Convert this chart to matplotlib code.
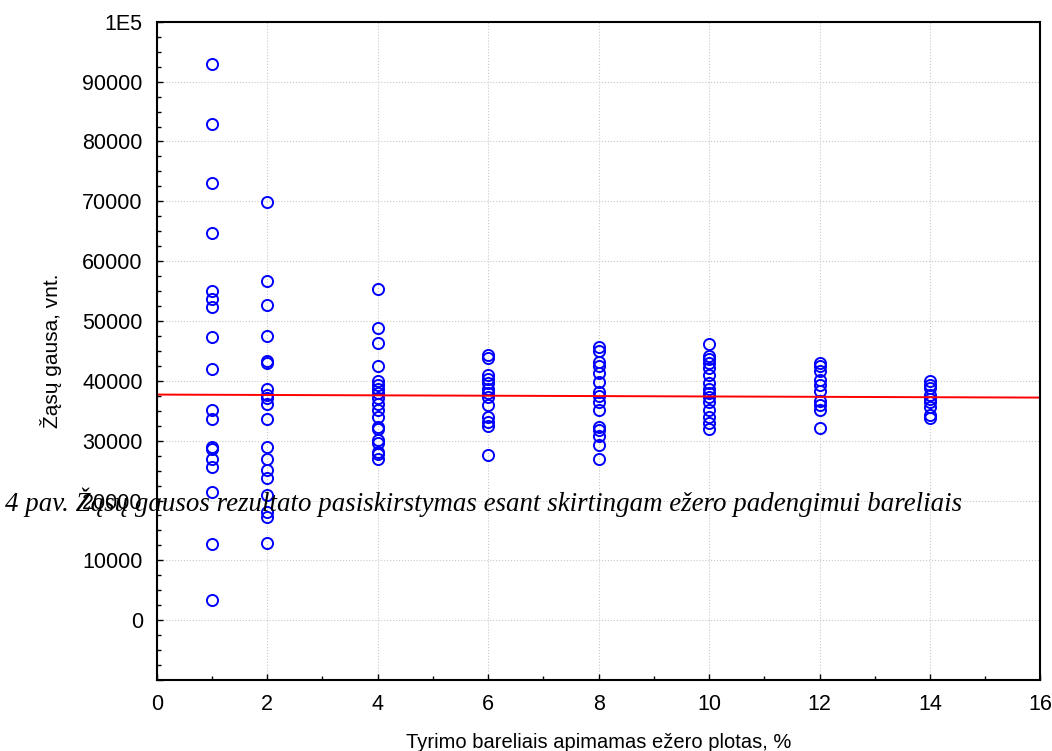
import matplotlib
matplotlib.use("Agg")
import matplotlib.pyplot as plt
from matplotlib.ticker import MultipleLocator, FuncFormatter

plt.rcParams['font.family'] = ['Liberation Sans', 'DejaVu Sans']

# Survey coverage of the lake (%) and goose counts per simulation
x_1 = [93000, 82900, 73100, 64700, 55000, 53600, 52400, 47300, 41900, 35100,
       33600, 29000, 28600, 27000, 25600, 21400, 12800, 3300]
x_2 = [69800, 56700, 52600, 47500, 43300, 43000, 38600, 37600, 37100, 36100,
       33600, 29000, 26900, 25100, 23700, 20900, 18100, 17200, 12900]
x_4 = [55300, 48800, 46400, 42400, 40000, 39300, 38600, 37900, 37100, 36200,
       35200, 34000, 32300, 31900, 30100, 29600, 28100, 27800, 26900]
x_6 = [44300, 43800, 41000, 40300, 39600, 38700, 38000, 37300, 36000, 33900,
       33200, 32400, 27600]
x_8 = [45700, 45000, 43200, 42500, 41300, 39800, 38200, 37500, 36500, 35100,
       32300, 31800, 30800, 29300, 27000]
x_10 = [46200, 44100, 43600, 42900, 42100, 41000, 39600, 38700, 38000, 37300,
        36500, 35100, 33900, 32900, 31900]
x_12 = [43000, 42400, 41700, 40100, 39300, 38300, 36700, 36000, 35100, 32100]
x_14 = [40000, 39300, 38800, 37600, 36900, 36400, 35700, 34300, 33800]

groups = {1: x_1, 2: x_2, 4: x_4, 6: x_6, 8: x_8, 10: x_10, 12: x_12, 14: x_14}

# fitted trend line
fit_x = [0, 16]
fit_y = [37700, 37200]

fig = plt.figure(figsize=(10.52, 7.51), dpi=100)
ax = fig.add_axes([0.149, 0.0945, 0.84, 0.8765])

for xv, vals in groups.items():
    ax.plot([xv] * len(vals), vals, linestyle='none', marker='o', markersize=8,
            markerfacecolor='none', markeredgecolor='#0000ff', markeredgewidth=1.4)

ax.plot(fit_x, fit_y, color='red', linewidth=1.4)

ax.set_xlim(0, 16)
ax.set_ylim(-10000, 100000)
ax.xaxis.set_major_locator(MultipleLocator(2))
ax.xaxis.set_minor_locator(MultipleLocator(1))
ax.yaxis.set_major_locator(MultipleLocator(10000))
ax.yaxis.set_minor_locator(MultipleLocator(2500))


def ylab(v, pos):
    if v < 0:
        return ''
    if v >= 100000:
        return '1E5'
    return '%d' % v


ax.yaxis.set_major_formatter(FuncFormatter(ylab))
ax.tick_params(which='both', direction='in', top=False, right=False, labelsize=15.5, color='black')
ax.tick_params(which='major', length=4, width=1, pad=10)
ax.tick_params(which='minor', length=3, width=1)
ax.grid(True, which='major', linestyle=':', color='#c8c8c8', linewidth=0.8)
for s in ax.spines.values():
    s.set_linewidth(1.5)

ax.set_xlabel('Tyrimo bareliais apimamas ežero plotas, %', fontsize=14.5, labelpad=13)
ax.set_ylabel('Žąsų gausa, vnt.', fontsize=15, labelpad=15)

fig.text(0.005, 0.331, '4 pav. Žąsų gausos rezultato pasiskirstymas esant skirtingam ežero padengimui bareliais',
         fontsize=19.4, fontstyle='italic', family=['Liberation Serif', 'DejaVu Serif'],
         va='center', ha='left')

fig.savefig('out.png', dpi=100)
